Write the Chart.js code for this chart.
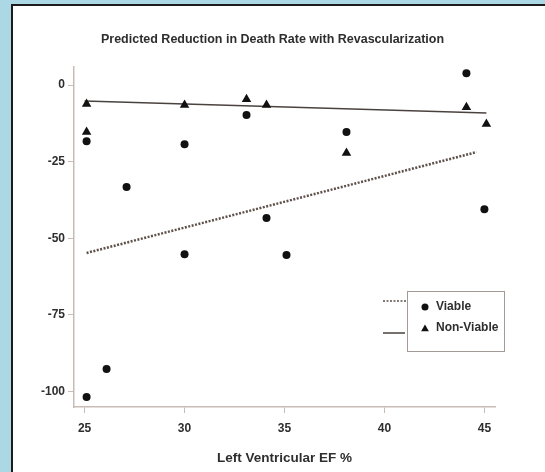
<!DOCTYPE html>
<html>
<head>
<meta charset="utf-8">
<script src="https://cdn.jsdelivr.net/npm/chart.js@4.4.0/dist/chart.umd.min.js"></script>
<style>
	html, body { margin: 0; padding: 0; }
	body { width: 545px; height: 472px; background: #acd8e6; position: relative; overflow: hidden; }
	#panel { position: absolute; left: 11px; top: 4px; right: 0; bottom: 0; background: #fff; border-left: 2px solid #1c1c1c; border-top: 2px solid #1c1c1c; }
	#chart { position: absolute; left: 0; top: 0; }
</style>
</head>
<body>
<div id="panel"></div>
<canvas id="chart" width="545" height="472"></canvas>
<script>
const efTicks = [25, 30, 35, 40, 45];
const reductionTicks = [0, -25, -50, -75, -100];

const viableEF = [25.1, 25.1, 26.1, 27.1, 30, 30, 33.1, 34.1, 35.1, 38.1, 44.1, 45];
const viableReduction = [-18.3, -101.8, -92.7, -33.3, -19.3, -55.2, -9.8, -43.4, -55.5, -15.3, 3.9, -40.5];

const nonViableEF = [25.1, 25.1, 30, 33.1, 34.1, 38.1, 44.1, 45.1];
const nonViableReduction = [-6.2, -15.3, -6.5, -4.6, -6.5, -22.2, -7.2, -12.7];

// end points of the two trend lines
const viableFitEF = [25.1, 44.6];
const viableFitReduction = [-54.8, -21.9];
const nonViableFitEF = [25, 45.1];
const nonViableFitReduction = [-5.2, -9.1];

const sans = '"Liberation Sans", Arial, sans-serif';
const axisColor = '#c9bcb6';
const textColor = '#2e2e2e';

function toPoints(xs, ys) {
	return xs.map((x, i) => ({ x: x, y: ys[i] }));
}

// legend box with the line keys sitting to its left
const sideLegend = {
	id: 'sideLegend',
	afterDatasetsDraw(chart) {
		const ctx = chart.ctx;
		const sets = chart.data.datasets;
		ctx.save();
		ctx.strokeStyle = '#a39a96';
		ctx.lineWidth = 1;
		ctx.strokeRect(407.5, 291.5, 97, 60);

		ctx.strokeStyle = sets[2].borderColor;
		ctx.lineWidth = 1.5;
		ctx.setLineDash([2, 1.5]);
		ctx.beginPath();
		ctx.moveTo(383, 301);
		ctx.lineTo(407, 301);
		ctx.stroke();
		ctx.setLineDash([]);
		ctx.strokeStyle = sets[3].borderColor;
		ctx.lineWidth = 1.5;
		ctx.beginPath();
		ctx.moveTo(383, 333);
		ctx.lineTo(405, 333);
		ctx.stroke();

		ctx.fillStyle = '#111';
		Chart.helpers.drawPoint(ctx, { pointStyle: 'circle', radius: 3.5, borderWidth: 0 }, 425, 307);
		Chart.helpers.drawPoint(ctx, { pointStyle: 'triangle', radius: 4.5, borderWidth: 0 }, 425, 329);

		ctx.fillStyle = textColor;
		ctx.font = 'bold 12px ' + sans;
		ctx.textBaseline = 'middle';
		ctx.fillText(sets[0].label, 436, 307);
		ctx.fillText(sets[1].label, 436, 328);
		ctx.restore();
	}
};

function chartIt() {
	const ctx = document.getElementById('chart').getContext('2d');
	const myChart = new Chart(ctx, {
		type: 'scatter',
		data: {
			datasets: [
				{
					label: 'Viable',
					data: toPoints(viableEF, viableReduction),
					pointStyle: 'circle',
					pointRadius: 4,
					backgroundColor: '#111',
					borderWidth: 0,
				},
				{
					label: 'Non-Viable',
					data: toPoints(nonViableEF, nonViableReduction),
					pointStyle: 'triangle',
					pointRadius: 5.5,
					backgroundColor: '#111',
					borderWidth: 0,
				},
				{
					label: 'Viable fit',
					data: toPoints(viableFitEF, viableFitReduction),
					showLine: true,
					borderColor: '#5e504a',
					borderWidth: 2.5,
					borderDash: [2, 1.5],
					pointRadius: 0,
				},
				{
					label: 'Non-Viable fit',
					data: toPoints(nonViableFitEF, nonViableFitReduction),
					showLine: true,
					borderColor: '#4a423e',
					borderWidth: 1.5,
					pointRadius: 0,
				},
			],
		},
		options: {
			responsive: false,
			animation: false,
			devicePixelRatio: 1,
			layout: { padding: 0 },
			plugins: {
				legend: { display: false },
				tooltip: { enabled: false },
				title: {
					display: true,
					text: 'Predicted Reduction in Death Rate with Revascularization',
					color: textColor,
					font: { family: sans, size: 12.5, weight: 'bold', lineHeight: 1.2 },
					padding: { top: 32.5, bottom: 19.5 },
				},
			},
			scales: {
				x: {
					type: 'linear',
					min: 24.47,
					max: 45.53,
					afterBuildTicks: (scale) => { scale.ticks = efTicks.map(v => ({ value: v })); },
					afterFit: (scale) => { scale.height = 65; },
					grid: { drawOnChartArea: false, tickLength: 6, color: axisColor },
					border: { color: axisColor, width: 1.5 },
					ticks: { color: textColor, padding: 8, font: { family: sans, size: 12, weight: 'bold' } },
					title: {
						display: true,
						text: 'Left Ventricular EF %',
						color: textColor,
						font: { family: sans, size: 13.5, weight: 'bold' },
						padding: { top: 4, bottom: 6 },
					},
				},
				y: {
					type: 'linear',
					min: -105.1,
					max: 5.9,
					afterBuildTicks: (scale) => { scale.ticks = reductionTicks.map(v => ({ value: v })); },
					afterFit: (scale) => { scale.width = 74; },
					grid: { drawOnChartArea: false, tickLength: 6, color: axisColor },
					border: { color: axisColor, width: 1.5 },
					ticks: { color: textColor, padding: 3, font: { family: sans, size: 12, weight: 'bold' } },
				},
				// empty margin on the right, keeps the title centred on the panel
				gutter: {
					type: 'linear',
					position: 'right',
					afterFit: (scale) => { scale.width = 50; },
					grid: { display: false },
					border: { display: false },
					ticks: { display: false },
				},
			},
		},
		plugins: [sideLegend],
	});
}

chartIt();
</script>
</body>
</html>
